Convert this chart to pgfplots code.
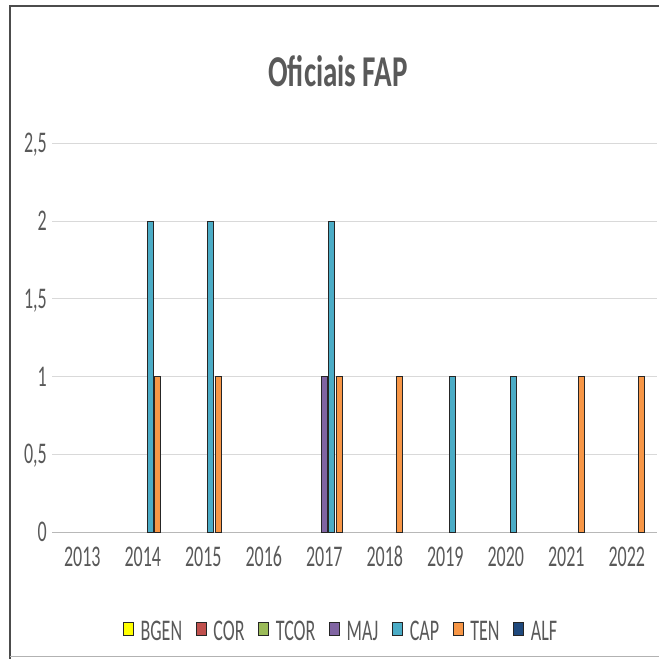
\documentclass[border=0pt]{standalone}
\usepackage{fontspec}
\setmainfont{Carlito}[FakeStretch=0.6]
\newfontfamily\titlefont{Carlito}[FakeStretch=0.66]
\usepackage{pgfplots}
\pgfplotsset{compat=1.18}
\definecolor{txt}{HTML}{595959}
\definecolor{cBGEN}{HTML}{FFFF00}
\definecolor{cCOR}{HTML}{C0504D}
\definecolor{cTCOR}{HTML}{9BBB59}
\definecolor{cMAJ}{HTML}{8064A2}
\definecolor{cCAP}{HTML}{4BACC6}
\definecolor{cTEN}{HTML}{F79646}
\definecolor{cALF}{HTML}{1F497D}
\definecolor{grid}{HTML}{D9D9D9}
\begin{document}
\begin{tikzpicture}
\pgfplotsset{legicon/.style={legend image code/.code={\draw[##1,draw=black!85,line width=0.6bp] (0bp,-3.5bp) rectangle (10bp,9.5bp);}}}
\begin{axis}[
  at={(52bp,127bp)}, anchor=south west,
  scale only axis, width=605bp, height=388.5bp,
  xmin=-0.5, xmax=9.5, ymin=0, ymax=2.5,
  ybar, bar width=6bp,
  xtick={0,...,9},
  xticklabels={2013,2014,2015,2016,2017,2018,2019,2020,2021,2022},
  ytick={0,0.5,1,1.5,2,2.5},
  yticklabels={0,{0,5},1,{1,5},2,{2,5}},
  major tick length=0pt,
  ymajorgrids, grid style={draw=grid, line width=1bp},
  axis x line*=bottom, axis y line*=left,
  x axis line style={draw=black!28, line width=1bp, -},
  y axis line style={draw=none},
  /pgf/number format/assume math mode=true,
  tick label style={font=\fontsize{30bp}{32bp}\selectfont, text=txt, inner sep=0pt, text height=19bp, text depth=0pt},
  yticklabel style={anchor=east, xshift=-5bp},
  xticklabel style={anchor=north, yshift=-15bp},
  legend columns=7,
  legend style={draw=none, fill=none, at={(rel axis cs:0.4761,-0.2574)}, anchor=center,
     font=\fontsize{30bp}{32bp}\selectfont, text=txt,
     nodes={inner sep=0pt},
     /tikz/every odd column/.append style={column sep=7bp},
     /tikz/every even column/.append style={column sep=13.7bp}},
  clip=false,
]
\addlegendimage{legicon, fill=cBGEN}\addlegendentry{BGEN}
\addlegendimage{legicon, fill=cCOR}\addlegendentry{COR}
\addlegendimage{legicon, fill=cTCOR}\addlegendentry{TCOR}
\addlegendimage{legicon, fill=cMAJ}\addlegendentry{MAJ}
\addlegendimage{legicon, fill=cCAP}\addlegendentry{CAP}
\addlegendimage{legicon, fill=cTEN}\addlegendentry{TEN}
\addlegendimage{legicon, fill=cALF}\addlegendentry{ALF}
% MAJ
\addplot+[forget plot, bar shift=0bp, fill=cMAJ, draw=black!85, line width=0.6bp] coordinates {(4,1)};
% CAP
\addplot+[forget plot, bar shift=7.4bp, fill=cCAP, draw=black!85, line width=0.6bp] coordinates {(1,2) (2,2) (4,2) (6,1) (7,1)};
% TEN
\addplot+[forget plot, bar shift=14.8bp, fill=cTEN, draw=black!85, line width=0.6bp] coordinates {(1,1) (2,1) (4,1) (5,1) (8,1) (9,1)};
\node[font=\titlefont\bfseries\fontsize{44bp}{48bp}\selectfont, text=txt, inner sep=0pt, text height=28.3bp, text depth=0pt] at (rel axis cs:0.4727,1.184) {Oficiais FAP};
\end{axis}
\draw[black!70, line width=2bp] (10bp,-5bp) -- (10bp,652.5bp) -- (700bp,652.5bp);
\draw[black!30, line width=1bp] (10bp,2.5bp) -- (700bp,2.5bp);
\pgfresetboundingbox
\useasboundingbox (0,0) rectangle (659bp,659bp);
\end{tikzpicture}
\end{document}
